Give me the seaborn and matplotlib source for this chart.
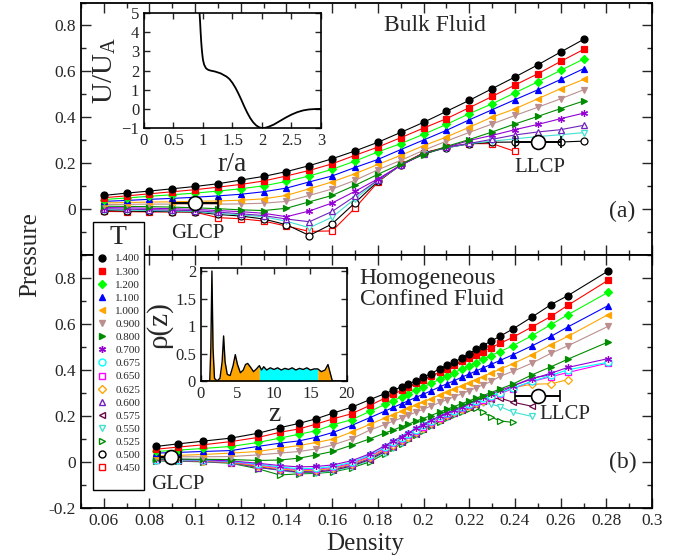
import matplotlib
matplotlib.use("Agg")
import matplotlib.pyplot as plt
from matplotlib.lines import Line2D
from matplotlib.ticker import MultipleLocator, FuncFormatter
import seaborn as sns

# ============================
# DATOS
# ============================
temps = ["1.400", "1.300", "1.200", "1.100", "1.000", "0.900", "0.800", "0.700",
         "0.675", "0.650", "0.625", "0.600", "0.575", "0.550", "0.525", "0.500", "0.450"]

# panel (a) bulk fluid
dens_a = [0.06, 0.07, 0.08, 0.09, 0.10, 0.11, 0.12, 0.13, 0.14, 0.15, 0.16,
          0.17, 0.18, 0.19, 0.20, 0.21, 0.22, 0.23, 0.24, 0.25, 0.26, 0.27]
pa_140 = [0.058, 0.068, 0.077, 0.087, 0.097, 0.109, 0.125, 0.141, 0.162, 0.188, 0.218,
          0.252, 0.290, 0.333, 0.377, 0.425, 0.473, 0.524, 0.575, 0.628, 0.684, 0.739]
pa_130 = [0.048, 0.056, 0.065, 0.074, 0.083, 0.094, 0.106, 0.121, 0.143, 0.167, 0.196,
          0.233, 0.269, 0.310, 0.352, 0.393, 0.441, 0.490, 0.540, 0.589, 0.643, 0.695]
pa_120 = [0.040, 0.047, 0.054, 0.061, 0.068, 0.077, 0.087, 0.100, 0.119, 0.143, 0.172,
          0.208, 0.248, 0.284, 0.325, 0.368, 0.415, 0.458, 0.506, 0.554, 0.604, 0.653]
pa_110 = [0.032, 0.036, 0.041, 0.045, 0.050, 0.056, 0.063, 0.074, 0.090, 0.117, 0.143,
          0.180, 0.215, 0.258, 0.300, 0.342, 0.388, 0.432, 0.476, 0.519, 0.564, 0.611]
pa_100 = [0.025, 0.027, 0.029, 0.030, 0.032, 0.034, 0.037, 0.043, 0.058, 0.087, 0.117,
          0.153, 0.193, 0.233, 0.275, 0.313, 0.356, 0.400, 0.436, 0.480, 0.524, 0.564]
pa_090 = [0.018, 0.019, 0.020, 0.020, 0.020, 0.020, 0.021, 0.024, 0.032, 0.058, 0.086,
          0.124, 0.170, 0.211, 0.255, 0.295, 0.333, 0.370, 0.407, 0.443, 0.480, 0.519]
pa_080 = [0.011, 0.010, 0.009, 0.007, 0.004, 0.000, -0.005, -0.008, 0.002, 0.030, 0.058,
          0.102, 0.150, 0.196, 0.236, 0.272, 0.302, 0.335, 0.370, 0.403, 0.437, 0.470]
pa_070 = [0.005, 0.004, 0.002, 0.000, -0.003, -0.008, -0.013, -0.020, -0.035, -0.010, 0.025,
          0.076, 0.130, 0.190, 0.238, 0.268, 0.298, 0.320, 0.345, 0.368, 0.393, 0.417]
pa_060 = [0.000, -0.002, -0.004, -0.006, -0.009, -0.015, -0.022, -0.030, -0.045, -0.057, -0.012,
          0.055, 0.125, 0.190, 0.240, 0.268, 0.285, 0.303, 0.322, 0.335, 0.345, 0.364]
pa_055 = [-0.004, -0.006, -0.008, -0.010, -0.012, -0.020, -0.027, -0.035, -0.055, -0.083, -0.037,
          0.044, 0.122, 0.190, 0.240, 0.266, 0.284, 0.295, 0.305, 0.315, 0.323, 0.332]
pa_050 = [-0.008, -0.010, -0.012, -0.013, -0.014, -0.025, -0.032, -0.045, -0.070, -0.117, -0.066,
          0.026, 0.120, 0.190, 0.243, 0.266, 0.283, 0.290, 0.291, 0.291, 0.291, 0.295]
pa_045 = [-0.012, -0.013, -0.014, -0.014, -0.015, -0.039, -0.044, -0.054, -0.076, -0.099, -0.097,
          0.003, 0.116, 0.193, 0.244, 0.269, 0.284, 0.284, 0.250]

# panel (b) homogeneous confined fluid
dens_b = [0.083, 0.0925, 0.1035, 0.1157, 0.1275, 0.137, 0.1455, 0.153, 0.1605, 0.1685, 0.1765,
          0.183, 0.1866, 0.1905, 0.1932, 0.1967, 0.1997, 0.2032, 0.2072, 0.2102, 0.2133, 0.2168,
          0.2199, 0.2229, 0.226, 0.2295, 0.2334, 0.2391, 0.2475, 0.2558, 0.2632, 0.2807]
pb_140 = [0.067, 0.078, 0.090, 0.103, 0.124, 0.148, 0.167, 0.187, 0.212, 0.237, 0.270,
          0.296, 0.310, 0.326, 0.339, 0.351, 0.367, 0.383, 0.405, 0.420, 0.433, 0.451,
          0.470, 0.488, 0.505, 0.524, 0.545, 0.577, 0.629, 0.683, 0.722, 0.828]
pb_130 = [0.055, 0.064, 0.074, 0.088, 0.106, 0.128, 0.143, 0.164, 0.187, 0.209, 0.245,
          0.276, 0.293, 0.311, 0.324, 0.341, 0.355, 0.371, 0.390, 0.404, 0.419, 0.436,
          0.450, 0.464, 0.479, 0.496, 0.514, 0.541, 0.586, 0.632, 0.680, 0.788]
pb_120 = [0.045, 0.051, 0.058, 0.067, 0.084, 0.103, 0.120, 0.135, 0.161, 0.183, 0.219,
          0.249, 0.265, 0.283, 0.295, 0.311, 0.325, 0.341, 0.359, 0.373, 0.387, 0.403,
          0.417, 0.431, 0.445, 0.461, 0.479, 0.504, 0.548, 0.596, 0.639, 0.736]
pb_110 = [0.038, 0.041, 0.045, 0.049, 0.067, 0.081, 0.091, 0.107, 0.128, 0.158, 0.192,
          0.220, 0.236, 0.253, 0.265, 0.280, 0.293, 0.308, 0.326, 0.339, 0.352, 0.368,
          0.381, 0.394, 0.408, 0.423, 0.440, 0.465, 0.504, 0.545, 0.586, 0.678]
pb_100 = [0.026, 0.028, 0.032, 0.038, 0.045, 0.059, 0.071, 0.084, 0.099, 0.129, 0.163,
          0.190, 0.205, 0.221, 0.232, 0.247, 0.259, 0.274, 0.291, 0.303, 0.316, 0.331,
          0.344, 0.357, 0.370, 0.385, 0.402, 0.426, 0.465, 0.509, 0.545, 0.639]
pb_090 = [0.022, 0.022, 0.022, 0.023, 0.030, 0.038, 0.045, 0.056, 0.074, 0.100, 0.138,
          0.162, 0.176, 0.191, 0.202, 0.216, 0.228, 0.242, 0.258, 0.270, 0.282, 0.296,
          0.309, 0.321, 0.334, 0.349, 0.371, 0.393, 0.429, 0.472, 0.504, 0.588]
pb_080 = [0.013, 0.012, 0.011, 0.010, 0.006, 0.008, 0.016, 0.030, 0.046, 0.072, 0.100,
          0.125, 0.138, 0.153, 0.163, 0.177, 0.188, 0.201, 0.217, 0.228, 0.240, 0.253,
          0.265, 0.276, 0.288, 0.301, 0.316, 0.338, 0.378, 0.413, 0.446, 0.520]
pb_070 = [0.012, 0.011, 0.009, 0.004, -0.006, -0.016, -0.022, -0.020, -0.013, 0.005, 0.035,
          0.070, 0.090, 0.110, 0.125, 0.145, 0.162, 0.180, 0.200, 0.212, 0.225, 0.240,
          0.255, 0.268, 0.282, 0.295, 0.310, 0.330, 0.360, 0.385, 0.410, 0.448]
pb_0675 = [0.010, 0.009, 0.007, 0.002, -0.010, -0.022, -0.030, -0.028, -0.020, -0.002, 0.030,
           0.065, 0.085, 0.105, 0.120, 0.140, 0.158, 0.177, 0.197, 0.210, 0.222, 0.237,
           0.250, 0.262, 0.275, 0.288, 0.300, 0.320, 0.350, 0.375, 0.400, 0.432]
pb_065 = [0.009, 0.008, 0.006, 0.000, -0.013, -0.026, -0.034, -0.032, -0.024, -0.006, 0.025,
          0.060, 0.080, 0.100, 0.115, 0.135, 0.153, 0.172, 0.192, 0.206, 0.219, 0.233,
          0.246, 0.258, 0.270, 0.283, 0.296, 0.318, 0.349, 0.370, 0.388, 0.429]
pb_0625 = [0.008, 0.007, 0.004, -0.002, -0.018, -0.030, -0.038, -0.036, -0.028, -0.010, 0.020,
           0.055, 0.075, 0.095, 0.110, 0.130, 0.149, 0.168, 0.188, 0.202, 0.215, 0.230,
           0.243, 0.255, 0.265, 0.280, 0.295, 0.322, 0.337, 0.339, 0.357]
pb_060 = [0.007, 0.006, 0.003, -0.003, -0.025, -0.035, -0.042, -0.040, -0.032, -0.014, 0.015,
          0.050, 0.070, 0.090, 0.106, 0.127, 0.146, 0.165, 0.185, 0.200, 0.213, 0.228,
          0.241, 0.252, 0.262, 0.278, 0.299, 0.330, 0.364, 0.378]
pb_0575 = [0.006, 0.005, 0.002, -0.004, -0.020, -0.035, -0.045, -0.044, -0.036, -0.018, 0.010,
           0.045, 0.066, 0.086, 0.102, 0.123, 0.142, 0.162, 0.182, 0.197, 0.210, 0.226,
           0.240, 0.252, 0.262, 0.272, 0.277, 0.259, 0.241]
pb_055 = [0.005, 0.004, 0.001, -0.005, -0.022, -0.038, -0.048, -0.047, -0.040, -0.022, 0.006,
          0.040, 0.062, 0.082, 0.098, 0.120, 0.139, 0.159, 0.179, 0.194, 0.207, 0.222,
          0.236, 0.250, 0.255, 0.250, 0.240, 0.216, 0.197]
pb_0525 = [0.004, 0.003, 0.000, -0.006, -0.030, -0.057, -0.052, -0.050, -0.044, -0.026, 0.000,
           0.035, 0.058, 0.078, 0.094, 0.116, 0.135, 0.155, 0.175, 0.190, 0.203, 0.218,
           0.230, 0.233, 0.215, 0.195, 0.178, 0.171]

# puntos criticos (densidad, presion, error en densidad)
glcp_a = (0.100, 0.023, 0.010)
llcp_a = (0.250, 0.292, 0.010)
glcp_b = (0.0893, 0.020, 0.0047)
llcp_b = (0.2499, 0.284, 0.0097)

# inset (a): potencial
r_pot = [0.93, 0.95, 0.96, 0.97, 0.98, 0.99, 1.0, 1.02, 1.05, 1.08, 1.1, 1.15, 1.2, 1.3,
         1.4, 1.45, 1.5, 1.55, 1.6, 1.65, 1.7, 1.75, 1.8, 1.85, 1.9, 1.95, 2.0, 2.05, 2.1,
         2.2, 2.3, 2.4, 2.5, 2.6, 2.7, 2.8, 2.9, 3.0]
u_pot = [5.5, 4.6, 4.0, 3.5, 3.1, 2.8, 2.55, 2.3, 2.12, 2.05, 2.02, 1.98, 1.95, 1.85,
         1.68, 1.55, 1.35, 1.1, 0.8, 0.47, 0.12, -0.2, -0.48, -0.7, -0.86, -0.96, -1.0, -0.99, -0.95,
         -0.82, -0.64, -0.46, -0.3, -0.17, -0.08, -0.03, -0.01, 0.0]

# inset (b): perfil de densidad
z_prof = [0, 1.2, 1.35, 1.5, 1.65, 1.85, 2.2, 2.6, 2.9, 3.1, 3.3, 3.6, 4.0, 4.4, 4.7, 5.0,
          5.4, 5.8, 6.1, 6.4, 6.8, 7.2, 7.6, 8.0, 8.3, 8.6, 9.0, 9.5, 10.0, 10.5, 11.0, 11.5,
          12.0, 12.5, 13.0, 13.5, 14.0, 14.5, 15.0, 15.5, 16.0, 16.5, 17.0, 17.4, 17.7, 18.0, 20.0]
rho_prof = [0, 0, 0.6, 2.0, 0.6, 0.05, 0.0, 0.05, 0.35, 0.82, 0.35, 0.12, 0.1, 0.28, 0.48, 0.3,
            0.15, 0.2, 0.3, 0.32, 0.25, 0.17, 0.22, 0.28, 0.2, 0.26, 0.2, 0.24, 0.21, 0.24, 0.2, 0.23,
            0.21, 0.24, 0.2, 0.23, 0.21, 0.24, 0.2, 0.22, 0.22, 0.17, 0.2, 0.3, 0.15, 0, 0]

# ============================
# ESTILO
# ============================
sns.set_style("ticks")
plt.rcParams["font.family"] = ["Liberation Serif", "DejaVu Serif"]
plt.rcParams["mathtext.fontset"] = "stix"

estilos = {
    "1.400": ("#000000", "o", True),
    "1.300": ("#ff0000", "s", True),
    "1.200": ("#00ff00", "D", True),
    "1.100": ("#0000ff", "^", True),
    "1.000": ("#ffa500", "<", True),
    "0.900": ("#bc8f8f", "v", True),
    "0.800": ("#008b00", ">", True),
    "0.700": ("#9400d3", (6, 2, 0), True),
    "0.675": ("#00ffff", "o", False),
    "0.650": ("#ff00ff", "s", False),
    "0.625": ("#ffa500", "D", False),
    "0.600": ("#7221bc", "^", False),
    "0.575": ("#670748", "<", False),
    "0.550": ("#40e0d0", "v", False),
    "0.525": ("#008b00", ">", False),
    "0.500": ("#000000", "o", False),
    "0.450": ("#ff0000", "s", False),
}


def tam(marker):
    if marker == "D":
        return 3.9
    if marker == "s":
        return 4.5
    return 5.0


def curva(ax, x, y, t):
    c, m, lleno = estilos[t]
    sns.lineplot(x=x[:len(y)], y=y, ax=ax, color=c, linewidth=0.8, marker=m,
                 markersize=tam(m), markerfacecolor=c if lleno else "white",
                 markeredgecolor=c, markeredgewidth=0.9, legend=False)


def fmt(v, p):
    if abs(v) < 1e-9:
        return "0"
    return "%g" % round(v, 3)


def estilo_panel(ax):
    ax.set_xlim(0.05, 0.3)
    ax.set_ylim(-0.2, 0.9)
    ax.xaxis.set_major_locator(MultipleLocator(0.02))
    ax.xaxis.set_minor_locator(MultipleLocator(0.01))
    ax.yaxis.set_major_locator(MultipleLocator(0.2))
    ax.yaxis.set_minor_locator(MultipleLocator(0.1))
    ax.xaxis.set_major_formatter(FuncFormatter(fmt))
    ax.yaxis.set_major_formatter(FuncFormatter(fmt))
    ax.tick_params(which="both", direction="in", top=True, right=True, labelsize=12.5)
    ax.tick_params(which="major", length=7, width=1)
    ax.tick_params(which="minor", length=3.5, width=1)
    ax.set_xlabel("")
    ax.set_ylabel("")
    for s in ax.spines.values():
        s.set_linewidth(1.3)
        s.set_color("black")


def punto_critico(ax, pc):
    ax.errorbar(pc[0], pc[1], xerr=pc[2], fmt="o", ms=10, mfc="white", mec="black",
                mew=1.2, ecolor="black", elinewidth=1.4, capsize=4, capthick=1.4, zorder=20)


# ============================
# FIGURA
# ============================
fig = plt.figure(figsize=(6.85, 5.6), dpi=100)
ax_a = fig.add_axes([0.118, 0.5455, 0.834, 0.4500])
ax_b = fig.add_axes([0.118, 0.093, 0.834, 0.4525])

serie_a = {"1.400": pa_140, "1.300": pa_130, "1.200": pa_120, "1.100": pa_110,
           "1.000": pa_100, "0.900": pa_090, "0.800": pa_080, "0.700": pa_070,
           "0.600": pa_060, "0.550": pa_055, "0.500": pa_050, "0.450": pa_045}
serie_b = {"1.400": pb_140, "1.300": pb_130, "1.200": pb_120, "1.100": pb_110,
           "1.000": pb_100, "0.900": pb_090, "0.800": pb_080, "0.700": pb_070,
           "0.675": pb_0675, "0.650": pb_065, "0.625": pb_0625, "0.600": pb_060,
           "0.575": pb_0575, "0.550": pb_055, "0.525": pb_0525}

for t in reversed(list(serie_a)):
    curva(ax_a, dens_a, serie_a[t], t)
for t in reversed(list(serie_b)):
    curva(ax_b, dens_b, serie_b[t], t)

punto_critico(ax_a, glcp_a)
punto_critico(ax_a, llcp_a)
punto_critico(ax_b, glcp_b)
punto_critico(ax_b, llcp_b)

estilo_panel(ax_a)
estilo_panel(ax_b)
ax_a.tick_params(labelbottom=False)
ax_a.set_yticks([0, 0.2, 0.4, 0.6, 0.8])

ax_a.text(0.205, 0.80, "Bulk Fluid", fontsize=17, ha="center", va="center")
ax_a.text(0.287, -0.01, "(a)", fontsize=17, ha="center", va="center")
ax_a.text(0.251, 0.18, "LLCP", fontsize=15, ha="center", va="center")
ax_a.text(0.101, -0.11, "GLCP", fontsize=15, ha="center", va="center")

ax_b.text(0.172, 0.75, "Homogeneous\nConfined Fluid", fontsize=17, ha="left",
          va="center", linespacing=1.05)
ax_b.text(0.287, -0.004, "(b)", fontsize=17, ha="center", va="center")
ax_b.text(0.262, 0.204, "LLCP", fontsize=15, ha="center", va="center")
ax_b.text(0.0925, -0.10, "GLCP", fontsize=15, ha="center", va="center")

fig.text(0.044, 0.545, "Pressure", fontsize=18, rotation=90, ha="center", va="center")
fig.text(0.533, 0.028, "Density", fontsize=18, ha="center", va="center")

# inset (a)
ax_in1 = fig.add_axes([0.2102, 0.7714, 0.2584, 0.2054])
sns.lineplot(x=r_pot, y=u_pot, ax=ax_in1, color="black", linewidth=1.3, sort=False)
ax_in1.set_xlim(0, 3)
ax_in1.set_ylim(-1, 5)
ax_in1.xaxis.set_major_locator(MultipleLocator(0.5))
ax_in1.yaxis.set_major_locator(MultipleLocator(1))
ax_in1.xaxis.set_major_formatter(FuncFormatter(fmt))
ax_in1.tick_params(direction="in", top=True, right=True, labelsize=12, length=4, width=1)
ax_in1.set_xlabel("r/a", fontsize=20, labelpad=2)
ax_in1.set_ylabel(r"U/U$_\mathregular{A}$", fontsize=21, labelpad=2)
for s in ax_in1.spines.values():
    s.set_linewidth(1.2)
    s.set_color("black")

# inset (b)
ax_in2 = fig.add_axes([0.2934, 0.3196, 0.2131, 0.2023])
zi = z_prof.index(8.0)
zf = z_prof.index(16.0)
ax_in2.fill_between(z_prof[:zi + 1], rho_prof[:zi + 1], color="#ffa500", lw=0)
ax_in2.fill_between(z_prof[zi:zf + 1], rho_prof[zi:zf + 1], color="#00ffff", lw=0)
ax_in2.fill_between(z_prof[zf:], rho_prof[zf:], color="#ffa500", lw=0)
sns.lineplot(x=z_prof, y=rho_prof, ax=ax_in2, color="black", linewidth=1.0, sort=False)
ax_in2.set_xlim(0, 20)
ax_in2.set_ylim(0, 2.06)
ax_in2.xaxis.set_major_locator(MultipleLocator(5))
ax_in2.yaxis.set_major_locator(MultipleLocator(0.5))
ax_in2.yaxis.set_major_formatter(FuncFormatter(fmt))
ax_in2.tick_params(direction="in", top=True, right=True, labelsize=12, length=4, width=1)
ax_in2.set_xlabel("z", fontsize=20, labelpad=0)
ax_in2.set_ylabel("ρ(z)", fontsize=21, labelpad=2)
for s in ax_in2.spines.values():
    s.set_linewidth(1.2)
    s.set_color("black")

# leyenda (con una fila vacia al final, como en el original)
manejadores = []
for t in temps:
    c, m, lleno = estilos[t]
    manejadores.append(Line2D([], [], ls="none", color=c, marker=m, markersize=tam(m),
                              markerfacecolor=c if lleno else "white",
                              markeredgecolor=c, markeredgewidth=1.0))
manejadores.append(Line2D([], [], ls="none"))
etiquetas = temps + [" "]
leg = fig.legend(manejadores, etiquetas, loc="upper left", bbox_to_anchor=(93 / 685, 1 - 222 / 560),
                 borderaxespad=0, frameon=True, fancybox=False, fontsize=8,
                 title="T", title_fontsize=20, labelspacing=0.3, handlelength=1.0,
                 handletextpad=0.7, borderpad=0.3, framealpha=1)
leg.get_frame().set_edgecolor("black")
leg.get_frame().set_linewidth(1.0)

fig.savefig("out.png", dpi=100)
